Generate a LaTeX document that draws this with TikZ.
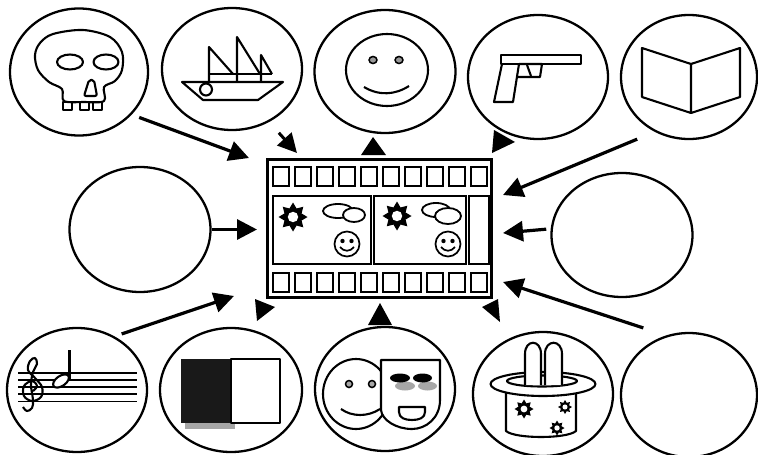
\documentclass[tikz,border=0pt]{standalone}
\usetikzlibrary{shapes.geometric,arrows.meta}
\begin{document}
\begin{tikzpicture}[x=1pt,y=-1pt,
  bubble/.style={ellipse,draw,line width=2.3pt,inner sep=0pt,minimum width=140pt,minimum height=124pt},
  feed/.style={line width=3.2pt,-{Triangle[length=20pt,width=20pt]}},
  icon/.style={line width=2.1pt,line join=round},
  sprocket/.style={draw,line width=2pt},
  minismile/.pic={
    \draw[line width=1.7pt] (0,0) circle (12.5);
    \fill (-4.5,-3) circle (2.2);
    \fill (4.5,-3) circle (2.2);
    \draw[line width=1.7pt] (-7,3) .. controls (-3,8) and (3,8) .. (7,3);
  },
  gear/.pic={
    \fill (0:#1) \foreach \k in {1,...,15} { -- ({\k*22.5}:{ifthenelse(isodd(\k),0.64*#1,#1)}) } -- cycle;
    \fill[white] (0,0) circle ({0.36*#1});
  },
]
\useasboundingbox (0,0) rectangle (758,455);

% ---- bubbles ----
\node[bubble,minimum width=138pt,minimum height=127pt] (skull) at (79,72) {};
\node[bubble,minimum height=122pt] (ship) at (232,69) {};
\node[bubble,minimum width=141pt,minimum height=123pt] (smile) at (385,71.5) {};
\node[bubble] (gun) at (538,77) {};
\node[bubble,minimum width=136pt] (book) at (689,77) {};
\node[bubble,minimum width=141pt,minimum height=125pt] (blankL) at (140,229.5) {};
\node[bubble,minimum width=141pt] (blankR) at (622,235) {};
\node[bubble] (music) at (77,390) {};
\node[bubble,minimum width=142pt] (bw) at (231,390) {};
\node[bubble] (masks) at (385,389) {};
\node[bubble] (hat) at (543,394) {};
\node[bubble,minimum width=136pt] (blankB) at (689,395) {};

% ---- film strip ----
\node[draw,line width=3pt,inner sep=0pt,minimum width=224pt,minimum height=138pt] (film) at (379,228) {};
\foreach \i in {0,...,9} {
  \draw[sprocket] ({273+22*\i},167) rectangle +(16,19);
  \draw[sprocket] ({273+22*\i},273) rectangle +(16,19);
}
\draw[line width=2pt] (273,196) rectangle (371,264);
\draw[line width=2pt] (374,196) rectangle (466,264);
\draw[line width=2pt] (469,196) rectangle (489,264);
% first frame
\pic at (293,217) {gear=14.5};
\draw[line width=1.8pt] (338,211) ellipse [x radius=15, y radius=7];
\draw[line width=1.8pt,fill=white] (354,215) ellipse [x radius=11, y radius=7];
\pic at (347,244) {minismile};
% second frame
\pic at (397,216) {gear=14.5};
\draw[line width=1.8pt] (436,210) ellipse [x radius=14, y radius=7];
\draw[line width=1.8pt,fill=white] (448,216) ellipse [x radius=13, y radius=8];
\pic at (448,244) {minismile};

% ---- connectors ----
\coordinate (t1) at (249,158);
\coordinate (t2) at (257,229.5);
\coordinate (t3) at (234,296);
\coordinate (t4) at (503,195);
\coordinate (t5) at (503,233);
\coordinate (t6) at (503,282);
\coordinate (t7) at (297,153);
\draw[feed,shorten <=8pt] (skull.-39) -- (t1);
\draw[feed] (blankL.east) -- (t2);
\draw[feed,shorten <=7.5pt] (music.55.5) -- (t3);
\draw[feed,shorten <=19pt] (book.-122.8) -- (t4);
\draw[feed,shorten <=4.5pt] (blankR.175.1) -- (t5);
\draw[feed,shorten <=24pt] (blankB.111.6) -- (t6);
\draw[line width=3pt,-{Triangle[length=19pt,width=19pt]},shorten <=14.5pt] (ship.-55.2) -- (t7);
% arrow heads without shafts
\fill (373,137) -- (361,155) -- (386,155) -- cycle;
\fill (494,130) -- (515,142) -- (492,153) -- cycle;
\fill (255,299) -- (275,307) -- (257,321) -- cycle;
\fill (380,303) -- (368,325) -- (392,325) -- cycle;
\fill (498,299) -- (482,307) -- (500,322) -- cycle;

% ---- skull ----
\draw[icon] plot[smooth cycle,tension=0.55] coordinates {(53,34) (83,30) (110,37) (122,52) (122,70) (115,81) (104,87) (104,101) (84,102) (64,101) (62,89) (49,82) (38,70) (35,55) (40,43)};
\draw[icon] (70,62) ellipse [x radius=13, y radius=7.5];
\draw[icon] (106,62) ellipse [x radius=12.5, y radius=7.5];
\draw[icon,rounded corners=2pt] (89,80) -- (84,96) -- (97,96) -- (94,80) -- cycle;
\draw[icon] (63,102) rectangle (72,110);
\draw[icon] (80,102) rectangle (89,110);
\draw[icon] (93,102) rectangle (102,110);

% ---- ship ----
\draw[icon] (182,82) -- (283,82) -- (258,100) -- (203,100) -- cycle;
\draw[icon] (206,89.5) circle (6);
\draw[icon] (209,82) -- (209,47) -- (233,74);
\draw[icon] (237,82) -- (237,37) -- (260,74);
\draw[icon] (261,82) -- (261,55) -- (272,74);
\draw[icon] (209,74) -- (272,74);

% ---- smiley ----
\draw[icon] (387,70) ellipse [x radius=41, y radius=36];
\draw[line width=1.5pt,fill=black!40] (373,60) ellipse [x radius=4, y radius=3.5];
\draw[line width=1.5pt,fill=black!40] (399,60) ellipse [x radius=4, y radius=3.5];
\draw[icon] (364,87) .. controls (379,96) and (395,95) .. (409,86);

% ---- pistol ----
\draw[icon] (501,55) rectangle (581,64);
\draw[icon] (502,64) -- (494,102) -- (513,102) -- (519,64);
\draw[icon] (519,64) -- (542,64) -- (540,77) -- (517,77);
\draw[icon] (527,65) -- (531,76);

% ---- book ----
\draw[icon] (642,48) -- (691,64) -- (691,113) -- (642,97) -- cycle;
\draw[icon] (691,64) -- (740,48) -- (740,97) -- (691,113);

% ---- music ----
\foreach \yy in {373.3,380.3,387.3,394.3,401.5}
  \draw[line width=1.8pt] (18,\yy) -- (137,\yy);
\draw[icon,fill=white,rotate around={35:(61,381)}] (61,381) ellipse [x radius=9, y radius=5];
\draw[icon] (69.5,350) -- (69.5,379);
\draw[icon] plot[smooth,tension=0.6] coordinates {(33,391) (37,386) (32,381) (24,386) (24,396) (32,401) (41,397) (42,387) (35,378) (28,370) (30,361) (35,358) (37,364) (33,372) (31,385) (33,400) (32,408) (27,411) (23,407)};

% ---- black and white ----
\fill[black!35] (185,423) rectangle (235,429);
\fill[black!90] (181,359) rectangle (231,423);
\draw[icon] (231,359) rectangle (280,423);

% ---- masks ----
\draw[icon] (356,394) ellipse [x radius=33, y radius=35];
\draw[line width=1.5pt,fill=black!35] (349,384) circle (3.5);
\draw[line width=1.5pt,fill=black!35] (372,384) circle (3.5);
\draw[icon] (341,409) .. controls (352,417) and (368,417) .. (380,409);
\draw[icon,fill=white] (381,360) -- (440,360) -- (440,400) .. controls (440,418) and (426,429) .. (412,429) .. controls (396,429) and (382,420) .. (381,410) -- cycle;
\fill[black!35] (405,386) ellipse [x radius=10, y radius=4.5];
\fill[black!35] (427.5,386) ellipse [x radius=9.5, y radius=4.5];
\fill (400,378) ellipse [x radius=10, y radius=4.5];
\fill (422.5,378) ellipse [x radius=9.5, y radius=4.5];
\draw[icon] (399,407) -- (425,407) -- (425,412) .. controls (425,418) and (419,420) .. (412,420) .. controls (405,420) and (399,418) .. (399,412) -- cycle;

% ---- top hat ----
\draw[icon,fill=white] (506,388) -- (506,431) .. controls (515,439) and (567,439) .. (576,431) -- (576,388);
\draw[icon,fill=white] (543,384) ellipse [x radius=52.5, y radius=12];
\draw[icon] (542,381) ellipse [x radius=35, y radius=5.5];
\draw[icon,fill=white] (525,385) -- (525,354) .. controls (525,339) and (541,339) .. (541,354) -- (541,385);
\draw[icon,fill=white] (545,385) -- (545,354) .. controls (545,339) and (562,339) .. (562,354) -- (562,385);
\pic at (524,409) {gear=9.5};
\pic at (565,407) {gear=7};
\pic at (557,428) {gear=7.5};
\end{tikzpicture}
\end{document}
